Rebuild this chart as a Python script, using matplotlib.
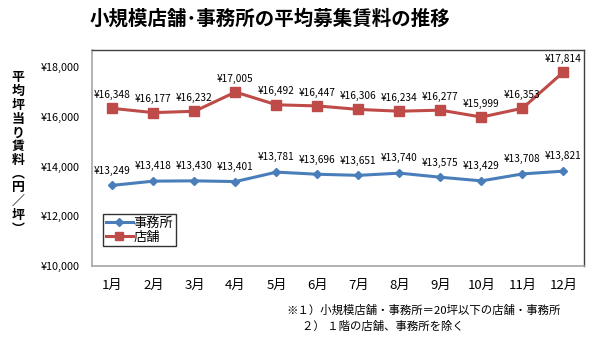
import matplotlib
matplotlib.use("Agg")
import matplotlib.pyplot as plt
import numpy as np

plt.rcParams['font.family'] = ['Noto Sans CJK JP', 'DejaVu Sans']

months = ['1月', '2月', '3月', '4月', '5月', '6月', '7月', '8月', '9月', '10月', '11月', '12月']
office = [13249, 13418, 13430, 13401, 13781, 13696, 13651, 13740, 13575, 13429, 13708, 13821]
store = [16348, 16177, 16232, 17005, 16492, 16447, 16306, 16234, 16277, 15999, 16353, 17814]
yticks = [10000, 12000, 14000, 16000, 18000]

blue = '#4a7ebb'
red = '#be4b48'

fig = plt.figure(figsize=(6, 3.4), dpi=100)
ax = fig.add_axes([0.1533, 0.2176, 0.82, 0.6354])

x = np.arange(len(months))
ax.plot(x, office, color=blue, lw=2.2, marker='D', ms=4.5, label='事務所')
ax.plot(x, store, color=red, lw=2.2, marker='s', ms=6.5, label='店舗')

for xi, v in zip(x, office):
    ax.annotate(f'¥{v:,}', (xi, v), xytext=(0, 7), textcoords='offset points',
                ha='center', va='bottom', fontsize=7.3)
for xi, v in zip(x, store):
    ax.annotate(f'¥{v:,}', (xi, v), xytext=(0, 6), textcoords='offset points',
                ha='center', va='bottom', fontsize=7.3)

ax.set_xlim(-0.5, len(months) - 0.5)
ax.set_ylim(10000, 18700)
ax.set_yticks(yticks)
ax.set_yticklabels([f'¥{v:,}' for v in yticks], fontsize=7.8)
ax.set_xticks(x)
ax.set_xticklabels(months, fontsize=9.5)
ax.tick_params(length=0, axis='y', pad=9)
ax.tick_params(length=0, axis='x', pad=9)

for s in ['left', 'bottom']:
    ax.spines[s].set_color('#a6a6a6')
    ax.spines[s].set_linewidth(1.2)
for s in ['top', 'right']:
    ax.spines[s].set_color('#404040')
    ax.spines[s].set_linewidth(1.0)

leg = ax.legend(loc='lower left', bbox_to_anchor=(0.01, 0.06), fontsize=9.5,
                handlelength=2.0, handletextpad=0.1, borderpad=0.2,
                labelspacing=0.1, fancybox=False, frameon=True, markerscale=0.8)
leg.get_frame().set_edgecolor('black')
leg.get_frame().set_linewidth(1.0)

fig.text(0.45, 0.945, '小規模店舗･事務所の平均募集賃料の推移', ha='center', va='center',
         fontsize=14, fontweight='bold')

ylab = '平均坪当り賃料︵円／坪︶'
fig.text(0.03, 0.55, '\n'.join(ylab), ha='center', va='center', fontsize=9.3,
         fontweight='bold', linespacing=0.98)

fig.text(0.478, 0.088, '※１）小規模店舗・事務所＝20坪以下の店舗・事務所', ha='left', va='center',
         fontsize=8.2)
fig.text(0.503, 0.04, '２） １階の店舗、事務所を除く', ha='left', va='center', fontsize=8.2)

fig.savefig('out.png', dpi=100)
